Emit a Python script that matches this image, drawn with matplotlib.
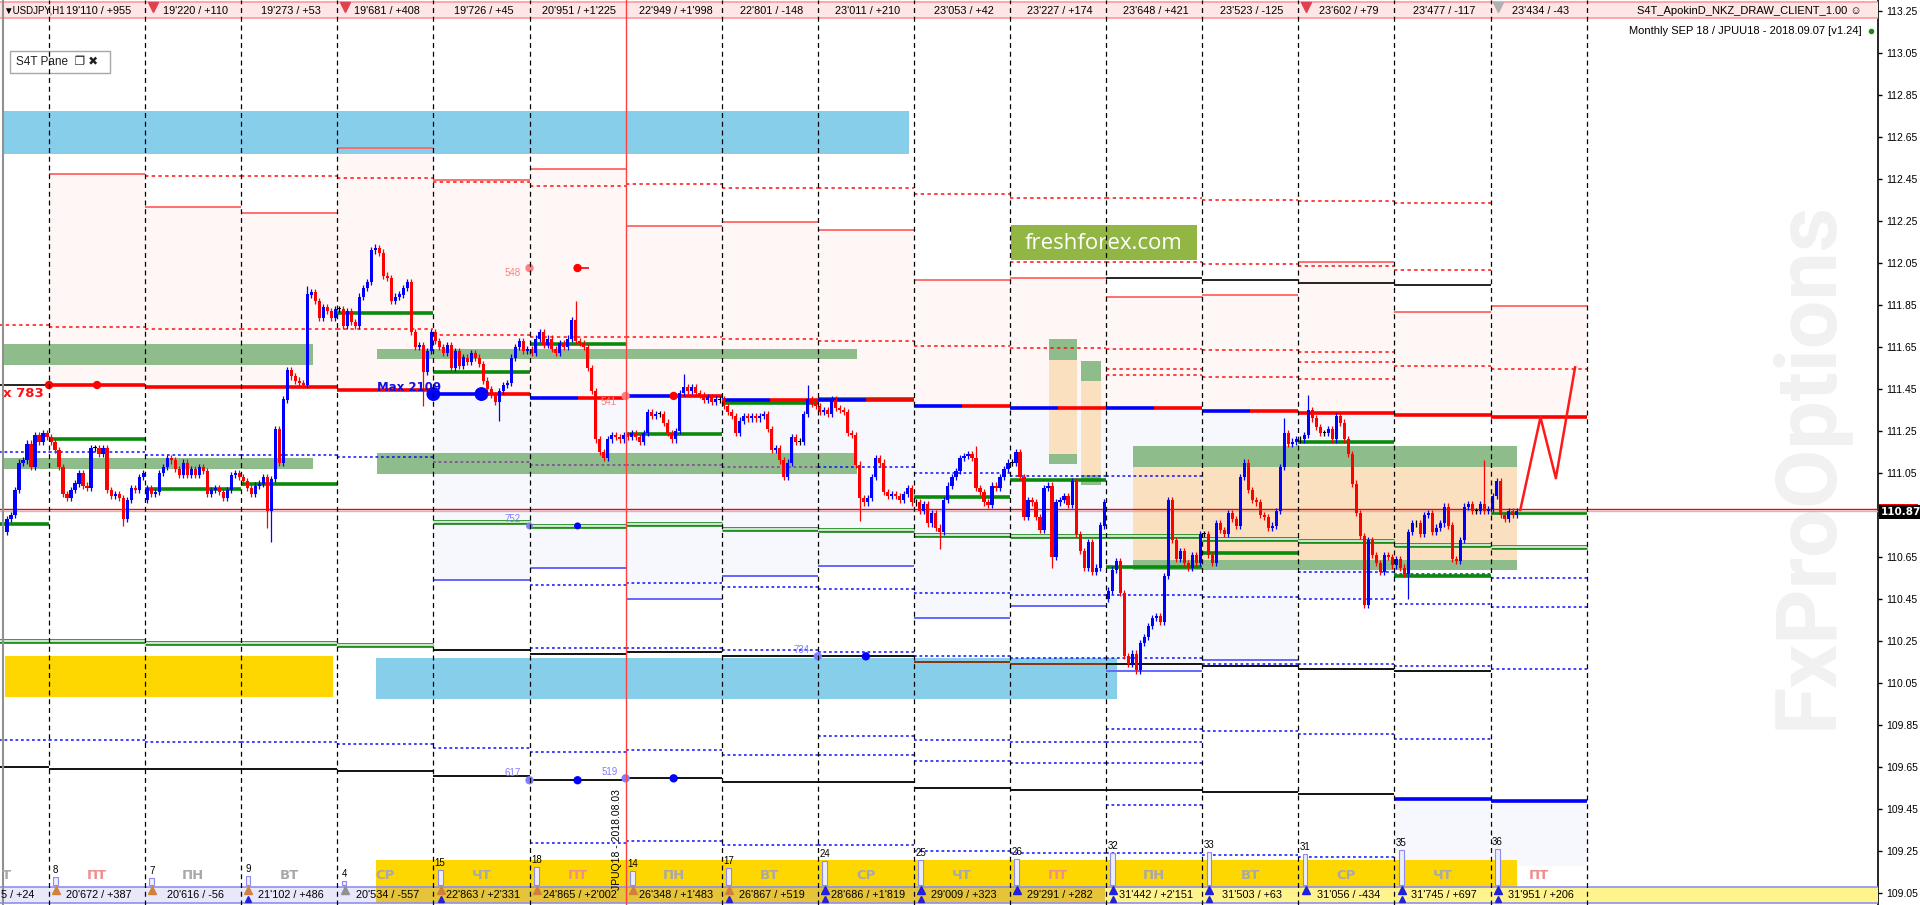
import numpy as np
import matplotlib
matplotlib.use("Agg")
import matplotlib.pyplot as plt
from matplotlib.patches import Rectangle
import matplotlib.transforms as mtransforms

# ======================= DATA =======================
days = list(range(-1, 16))

hdr_labels = ["19'110 / +955", "19'220 / +110", "19'273 / +53", "19'681 / +408",
              "19'726 / +45", "20'951 / +1'225", "22'949 / +1'998", "22'801 / -148",
              "23'011 / +210", "23'053 / +42", "23'227 / +174", "23'648 / +421",
              "23'523 / -125", "23'602 / +79", "23'477 / -117", "23'434 / -43"]
foot_labels = ["20'672 / +387", "20'616 / -56", "21'102 / +486", "20'534 / -557",
               "22'863 / +2'331", "24'865 / +2'002", "26'348 / +1'483", "26'867 / +519",
               "28'686 / +1'819", "29'009 / +323", "29'291 / +282", "31'442 / +2'151",
               "31'503 / +63", "31'056 / -434", "31'745 / +697", "31'951 / +206"]
foot_days = ["ПТ", "ПН", "ВТ", "СР", "ЧТ", "ПТ", "ПН", "ВТ", "СР", "ЧТ",
             "ПТ", "ПН", "ВТ", "СР", "ЧТ", "ПТ"]
foot_counts = [8, 7, 9, 4, 15, 18, 14, 17, 24, 25, 26, 32, 33, 31, 35, 36]
arrow_top_col = ["#D2803C", "#D2803C", "#D2803C", "#909090", "#D2803C", "#D2803C",
                 "#D2803C", "#D2803C", "#2020E0", "#2020E0", "#2020E0", "#2020E0",
                 "#2020E0", "#2020E0", "#2020E0", "#2020E0"]
arrow_low_blue = [2, 4, 7, 8, 9, 11, 12, 14, 15]

price_ticks = [109.05, 109.25, 109.45, 109.65, 109.85, 110.05, 110.25, 110.45,
               110.65, 110.85, 111.05, 111.25, 111.45, 111.65, 111.85, 112.05,
               112.25, 112.45, 112.65, 112.85, 113.05, 113.25]

# hourly closes per day (H1 bars)
c_m1 = [110.83, 110.85, 110.97, 111.10, 111.11, 111.19, 111.08, 111.23, 111.20, 111.24, 111.22]
c_00 = [111.20, 111.16, 111.08, 110.95, 110.93, 110.97, 111.00, 111.05, 110.99, 110.98, 111.17, 111.17,
        111.14, 111.17, 110.97, 110.94, 110.95, 110.93, 110.83, 110.92, 110.98, 110.97, 111.03, 111.05]
c_01 = [110.98, 110.95, 110.96, 111.05, 111.08, 111.12, 111.11, 111.07, 111.04, 111.10, 111.04, 111.07,
        111.04, 111.08, 111.06, 110.95, 110.97, 110.98, 110.96, 110.93, 110.97, 111.04, 111.05, 111.03]
c_02 = [111.01, 110.98, 110.95, 110.99, 111.00, 111.03, 110.87, 111.02, 111.26, 111.10, 111.40, 111.54,
        111.51, 111.49, 111.48, 111.47, 111.90, 111.91, 111.87, 111.79, 111.84, 111.82, 111.79, 111.83]
c_03 = [111.83, 111.75, 111.82, 111.77, 111.75, 111.89, 111.93, 111.96, 112.11, 112.12, 112.10, 111.99,
        111.98, 111.87, 111.89, 111.90, 111.93, 111.96, 111.72, 111.65, 111.66, 111.53, 111.63, 111.72]
c_04 = [111.68, 111.65, 111.62, 111.66, 111.55, 111.63, 111.56, 111.60, 111.58, 111.62, 111.60, 111.57,
        111.49, 111.45, 111.42, 111.39, 111.44, 111.47, 111.48, 111.60, 111.65, 111.68, 111.63, 111.64]
c_05 = [111.62, 111.69, 111.72, 111.66, 111.69, 111.64, 111.62, 111.67, 111.65, 111.69, 111.78, 111.68,
        111.67, 111.65, 111.55, 111.44, 111.21, 111.15, 111.12, 111.21, 111.23, 111.22, 111.21, 111.23]
c_06 = [111.22, 111.24, 111.22, 111.20, 111.24, 111.34, 111.32, 111.33, 111.33, 111.29, 111.24, 111.21,
        111.25, 111.43, 111.46, 111.44, 111.46, 111.43, 111.42, 111.40, 111.41, 111.39, 111.40, 111.40]
c_07 = [111.37, 111.34, 111.32, 111.24, 111.30, 111.32, 111.31, 111.32, 111.31, 111.32, 111.33, 111.26,
        111.16, 111.17, 111.11, 111.03, 111.10, 111.22, 111.20, 111.20, 111.33, 111.40, 111.38, 111.37]
c_08 = [111.34, 111.35, 111.33, 111.40, 111.36, 111.35, 111.34, 111.24, 111.23, 111.09, 110.93, 110.91,
        110.93, 111.03, 111.12, 111.10, 110.96, 110.94, 110.95, 110.94, 110.92, 110.95, 110.98, 110.91]
c_09 = [110.91, 110.87, 110.90, 110.81, 110.86, 110.79, 110.77, 110.92, 110.99, 111.03, 111.06, 111.12,
        111.13, 111.14, 111.12, 110.98, 110.96, 110.91, 110.90, 110.99, 110.98, 111.03, 111.07, 111.10]
c_10 = [111.10, 111.15, 111.03, 110.84, 110.92, 110.91, 110.84, 110.78, 110.98, 110.99, 110.65, 110.91,
        110.92, 110.94, 110.90, 111.01, 110.76, 110.68, 110.60, 110.72, 110.58, 110.60, 110.80, 110.91]
c_11 = [110.49, 110.59, 110.63, 110.48, 110.18, 110.14, 110.19, 110.11, 110.24, 110.27, 110.32, 110.36,
        110.37, 110.34, 110.56, 110.92, 110.73, 110.64, 110.68, 110.62, 110.60, 110.66, 110.62, 110.76]
c_12 = [110.76, 110.66, 110.62, 110.81, 110.78, 110.76, 110.86, 110.83, 110.80, 111.03, 111.10, 110.97,
        110.92, 110.91, 110.85, 110.84, 110.79, 110.80, 110.87, 111.08, 111.24, 111.19, 111.20, 111.21]
c_13 = [111.21, 111.23, 111.35, 111.31, 111.27, 111.24, 111.24, 111.26, 111.21, 111.32, 111.29, 111.21,
        111.14, 111.00, 110.86, 110.75, 110.42, 110.73, 110.66, 110.62, 110.58, 110.66, 110.65, 110.61]
c_14 = [110.64, 110.60, 110.57, 110.77, 110.81, 110.81, 110.76, 110.85, 110.86, 110.77, 110.79, 110.81,
        110.89, 110.80, 110.64, 110.63, 110.73, 110.89, 110.90, 110.87, 110.87, 110.90, 110.87, 110.88]
c_15 = [110.94, 111.01, 110.85, 110.83, 110.87, 110.85, 110.87]
first_open = 110.77
first_bar = {-1: 13}
gap_open = {1: 110.92, 11: 110.45}
wick_hi = {(2, 16): 111.94, (3, 9): 112.14, (5, 11): 111.87, (6, 14): 111.52, (7, 21): 111.47,
           (9, 15): 111.18, (12, 20): 111.31, (13, 2): 111.42, (14, 22): 111.11}
wick_lo = {(2, 6): 110.79, (2, 7): 110.72, (3, 21): 111.37, (4, 16): 111.30, (8, 10): 110.82,
           (9, 6): 110.69, (10, 10): 110.60, (11, 7): 110.10, (13, 16): 110.41, (14, 3): 110.45,
           (0, 18): 110.80}

# daily levels (index = day + 1, day -1 .. 15)
open_lvl = [111.469, 111.469, 111.460, 111.460, 111.445, 111.426, 111.407, 111.417, 111.398,
            111.400, 111.369, 111.360, 111.361, 111.347, 111.337, 111.328, 111.318]
open_split = [0, 0, 0, 0, 0, .5, .5, .5, .5, .5, .5, .5, .5, .5, 0, 0, 0]
pink_top = [None, 112.472, 112.315, 112.287, 112.596, 112.444, 112.496, 112.225, 112.244,
            112.206, 111.967, 111.977, 111.886, 111.896, 112.053, 111.815, 111.844]
red_dash_hi = [[], [], [112.463], [112.463], [112.453], [112.434], [112.415], [112.425], [112.406],
               [112.406], [112.377], [112.361, 112.053], [112.361, 112.053], [112.352, 112.044],
               [112.344, 112.034], [112.334, 112.015], []]
red_dash_lo = [[111.753], [111.744], [111.734], [111.734], [111.734], [111.706], [111.696], [111.696],
               [111.686], [111.677], [111.653], [111.644], [111.642, 111.544, 111.515],
               [111.634, 111.505], [111.625, 111.577, 111.496], [111.558], [111.544]]
black_hi = [None] * 12 + [111.977, 111.967, 111.953, 111.944, None]
green_thick = [110.809, 111.213, 110.975, 110.998, 111.813, 111.531, 111.666, 111.236, 111.385,
               111.404, 110.937, 111.017, 110.604, 110.671, 111.199, 110.559, 110.861]
green_hollow = [110.250, 110.250, 110.239, 110.239, 110.229, 110.817, 110.798, 110.807, 110.785,
                110.779, 110.756, 110.750, 110.750, 110.734, 110.726, 110.707, 110.696]
blue_dash_hi = [111.149, 111.149, 111.136, 111.136, 111.125, None, None, None, None,
                111.077, 111.048, 111.036, 111.036, None, None, None, None]
purple_dash = [None] * 5 + [111.104, 111.088, 111.088, 111.077] + [None] * 8
blue_dash_mid = [[], [], [], [], [], [], [110.515], [110.525], [110.506], [110.496], [110.477],
                 [110.468], [110.468], [110.458], [110.579, 110.448], [110.568, 110.425],
                 [110.549, 110.413]]
lav_bot = [None] * 5 + [110.539, 110.598, 110.448, 110.558, 110.606, 110.358, 110.415, 110.105,
                        110.158, 110.448, None, None]
blue_solid_lt = [None] * 5 + [110.539, 110.598, 110.448, 110.558, 110.606, 110.358, 110.415,
                              110.105, 110.158, None, None, None]
blue_dash_lo = [None] * 6 + [110.215, 110.215, 110.206, 110.196, 110.177, 110.168, 110.168,
                             110.139, 110.139, 110.131, 110.115]
black_mid = [None] * 5 + [110.207, 110.187, 110.196, 110.177, 110.177, 110.148, 110.139, 110.139,
                          110.131, 110.115, 110.105, None]
black_mid_col = ["k"] * 10 + ["#8B2500", "#8B2500"] + ["k"] * 5
blue_dot_lo = [[109.777], [109.777], [109.768], [109.768], [109.758], [109.739], [109.720],
               [109.729], [109.706], [109.796, 109.706], [109.777, 109.677], [109.768, 109.667],
               [109.829, 109.768, 109.667, 109.467], [109.820], [109.806], [109.785], []]
black_lo = [109.649, 109.639, 109.639, 109.639, 109.630, 109.606, 109.587, 109.596, 109.577,
            109.577, 109.549, 109.539, 109.539, 109.529, 109.520, None, None]
blue_thick_lo = [None] * 15 + [109.497, 109.490]
blue_dot_lo2 = [None] * 6 + [109.287, 109.296, 109.277, 109.277, 109.249, 109.239, 109.239,
                             109.230, 109.220, None, None]

# zones (day units / price)
zone_k0 = [-0.47, 3.40, -0.46, -0.47, -0.47, 3.41, 3.41, 11.28, 11.28, 11.28,
           10.41, 10.41, 10.41, 10.74, 10.74, 10.74]
zone_k1 = [8.95, 11.11, 2.955, 2.75, 2.75, 8.41, 8.41, 15.28, 15.28, 15.28,
           10.70, 10.70, 10.70, 10.95, 10.95, 10.95]
zone_lo = [112.569, 109.974, 109.983, 111.564, 111.069, 111.593, 111.045, 111.079, 110.636, 110.588,
           111.588, 111.140, 111.093, 111.488, 111.040, 110.993]
zone_hi = [112.774, 110.169, 110.179, 111.664, 111.121, 111.640, 111.145, 111.179, 111.079, 110.636,
           111.688, 111.588, 111.140, 111.583, 111.488, 111.040]
zone_col = ["#87CEEB", "#87CEEB", "#FFD700", "#8FBC8B", "#8FBC8B", "#8FBC8B", "#8FBC8B",
            "#8FBC8B", "#FAE0BE", "#8FBC8B", "#8FBC8B", "#FAE0BE", "#8FBC8B",
            "#8FBC8B", "#FAE0BE", "#8FBC8B"]

# projection zigzag
proj_k = [15.31, 15.52, 15.68, 15.88]
proj_p = [110.874, 111.315, 111.025, 111.553]

# dots and labels
dot_k = [0.0, 0.5, 4.0, 4.5, 5.0, 5.5, 6.0, 6.5, 5.0, 5.5, 8.0, 8.5, 5.0, 5.5, 6.0, 6.5]
dot_p = [111.469, 111.469, 111.426, 111.426, 112.026, 112.026, 111.417, 111.417, 110.798, 110.798,
         110.177, 110.177, 109.587, 109.587, 109.596, 109.596]
dot_c = ["red", "red", "blue", "blue", "#FF8080", "red", "#FF8080", "red", "#8080FF", "blue",
         "#8080FF", "blue", "#8080FF", "blue", "#8080FF", "blue"]
dot_s = [6, 6, 10, 10, 6, 6, 6, 6, 5, 5, 6, 6, 6, 6, 6, 6]
lab_text = ["548", "541", "752", "734", "617", "519"]
lab_k = [4.82, 5.82, 4.82, 7.83, 4.82, 5.83]
lab_p = [112.002, 111.388, 110.830, 110.207, 109.620, 109.626]
lab_c = ["#FF8080", "#FF8080", "#8080FF", "#8080FF", "#8080FF", "#8080FF"]

last_price = 110.88
bid_price = 110.87

# ======================= LAYOUT =======================
W, H = 1920, 905
AX_W = 1878
X0, DX = 49.0, 96.1
Y0, P0, PPX = 473.0, 111.05, 0.2 / 42.0


def K(xpx):
    return (xpx - X0) / DX


def P(ypx):
    return P0 - (ypx - Y0) * PPX


fig = plt.figure(figsize=(W / 100, H / 100), dpi=100)
fig.patch.set_facecolor("white")
ax = fig.add_axes([0, 0, AX_W / W, 1])
ax.set_xlim(K(0), K(AX_W))
ax.set_ylim(P(H), P(0))
ax.set_facecolor("white")
for s in ["top", "left", "bottom"]:
    ax.spines[s].set_visible(False)
ax.spines["right"].set_color("black")
ax.spines["right"].set_linewidth(1.2)
ax.set_xticks([])
ax.yaxis.tick_right()
ax.set_yticks(price_ticks)
# the 110.85 label sits under the current-bid box on the price scale
ax.set_yticklabels(["" if abs(v - 110.85) < 1e-6 else f"{v:.2f}" for v in price_ticks],
                   fontsize=7.5, family="Liberation Sans")
ax.tick_params(axis="y", direction="out", length=3, pad=3, width=1)

PINK = "#FFF6F6"
LAV = "#F7F7FE"


def hseg(d, p, color, lw, ls="-", z=3, a=0.0, b=1.0):
    ax.hlines(p, d + a, d + b, colors=color, linewidth=lw, linestyles=ls, zorder=z)


RD = (0, (2.2, 2.2))
BD = (0, (1.8, 1.8))

# fills
for i, d in enumerate(days):
    if pink_top[i] is not None:
        ax.add_patch(Rectangle((d, open_lvl[i]), 1, pink_top[i] - open_lvl[i],
                               facecolor=PINK, edgecolor="none", zorder=1))
    if lav_bot[i] is not None:
        ax.add_patch(Rectangle((d, lav_bot[i]), 1, open_lvl[i] - lav_bot[i],
                               facecolor=LAV, edgecolor="none", zorder=1))
    if blue_thick_lo[i] is not None:
        ax.add_patch(Rectangle((d, 109.18), 1, blue_thick_lo[i] - 109.18,
                               facecolor=LAV, edgecolor="none", zorder=1))

# zones
for k0, k1, lo, hi, col in zip(zone_k0, zone_k1, zone_lo, zone_hi, zone_col):
    ax.add_patch(Rectangle((k0, lo), k1 - k0, hi - lo, facecolor=col, edgecolor="none", zorder=2))

# watermark
ax.text(K(1808), P(465), "FxProOptions", rotation=90, ha="center", va="center",
        fontsize=62, fontweight="bold", family="Roboto", color="#F1F1F1", zorder=1.5)

# levels
for i, d in enumerate(days):
    if pink_top[i] is not None:
        hseg(d, pink_top[i], "#FF6464", 1.3)
    for p in red_dash_hi[i]:
        hseg(d, p, "#FF1010", 1.1, RD)
    for p in red_dash_lo[i]:
        hseg(d, p, "#FF1010", 1.1, RD)
    if black_hi[i] is not None:
        hseg(d, black_hi[i], "black", 1.2)
    if blue_dash_hi[i] is not None:
        hseg(d, blue_dash_hi[i], "#1010FF", 1.1, BD)
    if purple_dash[i] is not None:
        hseg(d, purple_dash[i], "#8040A0", 1.1, BD)
    for p in blue_dash_mid[i]:
        hseg(d, p, "#1010FF", 1.1, BD)
    if blue_solid_lt[i] is not None:
        hseg(d, blue_solid_lt[i], "#6666FF", 1.4)
    if blue_dash_lo[i] is not None:
        hseg(d, blue_dash_lo[i], "#1010FF", 1.1, BD)
    if black_mid[i] is not None:
        hseg(d, black_mid[i], black_mid_col[i], 1.3)
    for p in blue_dot_lo[i]:
        hseg(d, p, "#1010FF", 1.1, BD)
    if black_lo[i] is not None:
        hseg(d, black_lo[i], "black", 1.3)
    if blue_thick_lo[i] is not None:
        hseg(d, blue_thick_lo[i], "#0000FF", 2.6)
    if blue_dot_lo2[i] is not None:
        hseg(d, blue_dot_lo2[i], "#1010FF", 1.1, BD)
    # hollow green
    hseg(d, green_hollow[i], "#1E8C1E", 3.4, z=3.1)
    hseg(d, green_hollow[i], "#EEF6EE", 1.2, z=3.2)
    # thick green
    hseg(d, green_thick[i], "#0A8A0A", 2.6, z=3.3)
    # open level
    if d == -1:
        hseg(d, open_lvl[i], "black", 1.2, z=3.4)
    else:
        sp = open_split[i]
        if sp > 0:
            hseg(d, open_lvl[i], "#0000FF", 2.6, z=3.4, a=0, b=sp)
        hseg(d, open_lvl[i], "#FF0000", 2.6, z=3.4, a=sp, b=1)

# current price lines
ax.axhline(last_price, color="#FF0000", lw=1.0, zorder=3.6)
ax.axhline(bid_price, color="#C0C0C0", lw=1.0, zorder=3.55)

# candles
day_closes = [c_m1, c_00, c_01, c_02, c_03, c_04, c_05, c_06, c_07, c_08, c_09, c_10,
              c_11, c_12, c_13, c_14, c_15]
WICK = 0.015
xs, os_, cs, hs, ls_ = [], [], [], [], []
prev = first_open
for d, closes in zip(days, day_closes):
    b0 = first_bar.get(d, 0)
    for j, c in enumerate(closes):
        o = gap_open[d] if (j == 0 and d in gap_open) else prev
        b = b0 + j
        hi = max(max(o, c) + WICK, wick_hi.get((d, b), 0))
        lo = min(min(o, c) - WICK, wick_lo.get((d, b), 999))
        xs.append(d + (b + 0.5) / 24.0)
        os_.append(o); cs.append(c); hs.append(hi); ls_.append(lo)
        prev = c
xs = np.array(xs); os_ = np.array(os_); cs = np.array(cs)
hs = np.array(hs); ls_ = np.array(ls_)
cols = np.where(cs > os_ + 0.003, "#0000FF", np.where(cs < os_ - 0.003, "#FF0000", "black"))
ax.vlines(xs, ls_, hs, colors=cols, linewidth=0.9, zorder=4)
bw = 0.78 / 24
body_lo = np.minimum(os_, cs)
body_h = np.maximum(np.abs(cs - os_), 0.004)
ax.bar(xs, body_h, bottom=body_lo, width=bw, color=cols, linewidth=0, zorder=4.1)

# projection
ax.plot(proj_k, proj_p, color="#FF1A1A", lw=1.8, zorder=4.5)

# dots / labels
ax.scatter(dot_k, dot_p, s=[v ** 2 for v in dot_s], c=dot_c, zorder=5, linewidths=0)
ax.hlines(dot_p[5], dot_k[5], dot_k[5] + 0.12, colors="red", lw=1.2, zorder=5)
for t, k, p, c in zip(lab_text, lab_k, lab_p, lab_c):
    ax.text(k, p, t, color=c, fontsize=7, ha="center", va="center", zorder=5,
            family="Liberation Sans")
ax.text(K(377), P(387), "Max 2109", color="#1010E0", fontsize=8.5, fontweight="bold",
        ha="left", va="center", zorder=5)
ax.text(K(3), P(393), "x 783", color="#FF1010", fontsize=9.5, fontweight="bold",
        ha="left", va="center", zorder=5)

# freshforex badge
ax.add_patch(Rectangle((K(1011), P(260)), K(1197) - K(1011), P(225) - P(260),
                       facecolor="#92B644", edgecolor="none", zorder=5.5))
ax.text(K(1104), P(243), "freshforex.com", color="white", fontsize=16, family="Open Sans",
        ha="center", va="center", zorder=5.6)

# S4T pane
ax.add_patch(Rectangle((K(10), P(73)), K(110) - K(10), P(51) - P(73),
                       facecolor="white", edgecolor="#A8A8A8", lw=1, zorder=5.5))
ax.text(K(16), P(62), "S4T Pane  ❐ ✖", fontsize=8.5, ha="left", va="center", zorder=5.6,
        family=["Liberation Sans", "DejaVu Sans"], color="#202020")

# ---------------- header strip ----------------
ax.add_patch(Rectangle((K(0), P(18)), K(AX_W) - K(0), P(2) - P(18),
                       facecolor="#FFE6E6", edgecolor="none", zorder=6))
ax.hlines([P(2), P(18)], K(0), K(AX_W), colors="#FF9A9A", lw=1.2, zorder=6.1)
for j, t in enumerate(hdr_labels):
    ax.text(j + 0.52, P(10.5), t, fontsize=7.8, ha="center", va="center",
            family="Liberation Sans", zorder=7)
ax.text(K(3), P(10), "▼USDJPY,H1", fontsize=7, ha="left", va="center",
        family=["Liberation Sans", "DejaVu Sans"], zorder=7)
for j, c in zip([1, 3, 13, 15], ["#E04050", "#E04050", "#E04050", "#B0B0B0"]):
    ax.plot([j + 0.08], [P(7)], marker="v", color=c, markersize=7, zorder=7)
ax.text(K(1862), P(10.5), "S4T_ApokinD_NKZ_DRAW_CLIENT_1.00 ☺", fontsize=8, ha="right",
        va="center", family=["Liberation Sans", "DejaVu Sans"], zorder=7)
ax.text(K(1862), P(31), "Monthly SEP 18 / JPUU18 - 2018.09.07 [v1.24]", fontsize=8,
        ha="right", va="center", family="Liberation Sans", zorder=7)
ax.plot([K(1871)], [P(31)], marker="o", color="#109010", markersize=3, zorder=7)

# ---------------- footer strip ----------------
ax.add_patch(Rectangle((K(376), P(887)), K(1517) - K(376), P(860) - P(887),
                       facecolor="#FFD700", edgecolor="none", zorder=6))
ax.add_patch(Rectangle((K(0), P(903)), K(376) - K(0), P(887) - P(903),
                       facecolor="#E8E8FA", edgecolor="none", zorder=6))
ax.add_patch(Rectangle((K(376), P(903)), K(1105) - K(376), P(887) - P(903),
                       facecolor="#E6C43A", edgecolor="none", zorder=6))
ax.add_patch(Rectangle((K(1105), P(903)), K(AX_W) - K(1105), P(887) - P(903),
                       facecolor="#FFF48C", edgecolor="none", zorder=6))
ax.hlines([P(887), P(903)], K(0), K(AX_W), colors="#9090F0", lw=1.2, zorder=6.1)
# histogram bars of counts
bar_base = P(885)
ax.bar([j + 0.07 for j in range(16)], [v * PPX for v in foot_counts], bottom=bar_base,
       width=0.05, color="#EDEDFF", edgecolor="#8C8CF0", linewidth=0.8, zorder=6.2)
for j, v in enumerate(foot_counts):
    ax.text(j + 0.07, bar_base + v * PPX + 2 * PPX, str(v), fontsize=7, ha="center",
            va="bottom", family="Liberation Sans", zorder=7)
for j, t in enumerate(foot_days):
    ax.text(j + 0.5, P(875), t, fontsize=9.5, fontweight="bold", ha="center", va="center",
            color="#F08C8C" if t == "ПТ" else "#A8A8A8", zorder=7)
ax.text(K(6), P(875), "Т", fontsize=9.5, fontweight="bold", ha="center", va="center",
        color="#A8A8A8", zorder=7)
for j, t in enumerate(foot_labels):
    ax.text(j + 0.52, P(895), t, fontsize=7.8, ha="center", va="center",
            family="Liberation Sans", zorder=7)
ax.text(K(18), P(895), "5 / +24", fontsize=7.8, ha="center", va="center",
        family="Liberation Sans", zorder=7)
for j, c in enumerate(arrow_top_col):
    ax.plot([j + 0.075], [P(890)], marker="^", color=c, markersize=6, zorder=7)
for j in arrow_low_blue:
    ax.plot([j + 0.075], [P(899)], marker="^", color="#2020E0", markersize=5, zorder=7)

# vertical separators
ax.vlines([k for k in range(17) if k != 6], P(H), P(0), colors="black", linewidth=0.9,
          linestyles=(0, (4, 3)), zorder=6.5)
ax.axvline(6, color="#FF4040", lw=1.0, zorder=6.5)
ax.axvline(K(3), color="#909090", lw=1.5, zorder=6.5)
ax.text(K(617), P(840), "JPUQ18 - 2018.08.03", rotation=90, fontsize=7.5, ha="center",
        va="center", family="Liberation Sans", zorder=7, color="black")

# price labels on axis
bt = mtransforms.blended_transform_factory(ax.transAxes, ax.transData)
ax.add_patch(Rectangle((1.0005, bid_price + 0.004), 0.021, 0.03, transform=bt,
                       facecolor="#FF0000", edgecolor="none", zorder=8, clip_on=False))
ax.text(1.0015, bid_price - 0.005, f"{bid_price:.2f}", transform=bt, fontsize=7.5, color="white",
        ha="left", va="center", fontweight="bold", zorder=9, clip_on=False,
        bbox=dict(boxstyle="square,pad=0.2", fc="black", ec="none"))

fig.savefig("out.png", dpi=100)
